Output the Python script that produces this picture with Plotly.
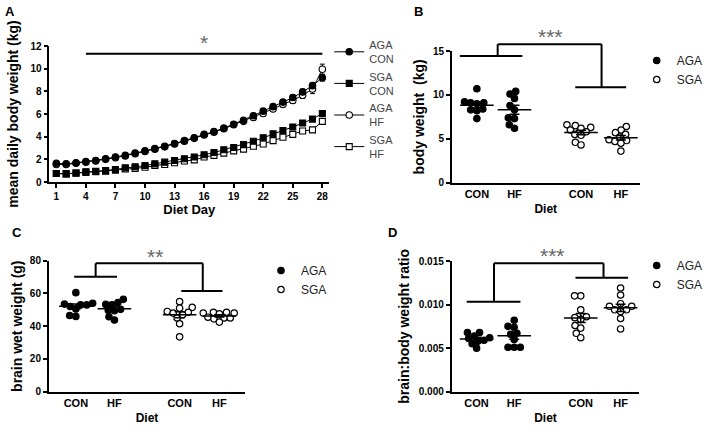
import numpy as np
import plotly.graph_objects as go

W, H = 708, 434
FONT = "Liberation Sans, Arial, sans-serif"

# ---------------- Panel A data ----------------
days = list(range(1, 29))
day_ticks = [1, 4, 7, 10, 13, 16, 19, 22, 25, 28]
aga_con = [1.65, 1.6, 1.7, 1.8, 1.9, 2.05, 2.2, 2.35, 2.55, 2.75, 2.95, 3.15, 3.4, 3.65,
           3.9, 4.2, 4.45, 4.75, 5.1, 5.45, 5.85, 6.25, 6.65, 7.05, 7.45, 7.95, 8.5, 9.2]
aga_hf = [1.55, 1.55, 1.65, 1.75, 1.85, 2.0, 2.15, 2.3, 2.5, 2.7, 2.9, 3.1, 3.35, 3.6,
          3.85, 4.15, 4.4, 4.7, 5.05, 5.35, 5.7, 6.05, 6.45, 6.85, 7.2, 7.65, 8.2, 9.95]
sga_con = [0.75, 0.72, 0.8, 0.9, 0.95, 1.0, 1.1, 1.25, 1.35, 1.45, 1.6, 1.75, 1.9, 2.05,
           2.2, 2.4, 2.6, 2.85, 3.05, 3.3, 3.6, 3.9, 4.25, 4.55, 4.85, 5.2, 5.55, 6.05]
sga_hf = [0.75, 0.72, 0.78, 0.85, 0.9, 0.95, 1.05, 1.15, 1.2, 1.3, 1.45, 1.55, 1.7, 1.85,
          1.95, 2.2, 2.35, 2.55, 2.75, 2.9, 3.15, 3.35, 3.65, 3.95, 4.2, 4.5, 4.6, 5.35]
aga_con_err = [0.08, 0.08, 0.08, 0.09, 0.09, 0.1, 0.1, 0.1, 0.11, 0.11, 0.12, 0.12, 0.13, 0.13,
               0.14, 0.15, 0.15, 0.16, 0.17, 0.18, 0.19, 0.2, 0.21, 0.22, 0.23, 0.24, 0.26, 0.3]
aga_hf_err = [0.08, 0.08, 0.09, 0.09, 0.1, 0.1, 0.11, 0.11, 0.12, 0.12, 0.13, 0.13, 0.14, 0.15,
              0.15, 0.16, 0.17, 0.18, 0.19, 0.2, 0.21, 0.22, 0.23, 0.24, 0.26, 0.28, 0.4, 0.45]
sga_con_err = [0.05, 0.05, 0.05, 0.05, 0.06, 0.06, 0.06, 0.07, 0.07, 0.07, 0.08, 0.08, 0.09, 0.09,
               0.1, 0.1, 0.11, 0.11, 0.12, 0.13, 0.14, 0.15, 0.16, 0.17, 0.18, 0.19, 0.2, 0.22]
sga_hf_err = [0.05, 0.05, 0.05, 0.05, 0.06, 0.06, 0.06, 0.07, 0.07, 0.07, 0.08, 0.08, 0.09, 0.09,
              0.1, 0.1, 0.11, 0.11, 0.12, 0.13, 0.14, 0.15, 0.16, 0.17, 0.18, 0.19, 0.2, 0.25]

# ---------------- Panels B-D data ----------------
diet_labels = ["CON", "HF", "CON", "HF"]

bw_aga_con = [10.7, 9.1, 9.0, 9.1, 9.2, 8.3, 8.4, 8.2, 7.3]
bw_aga_hf = [10.4, 10.1, 9.6, 8.8, 8.3, 7.3, 7.4, 6.2, 6.6]
bw_sga_con = [6.6, 6.5, 6.3, 6.2, 6.0, 5.8, 5.5, 5.4, 4.6, 4.3]
bw_sga_hf = [6.4, 6.0, 5.7, 5.5, 5.2, 4.9, 4.8, 4.7, 4.5, 3.6]

br_aga_con = [60.5, 53.5, 53.0, 53.0, 54.0, 52.0, 50.5, 46.0, 46.5]
br_aga_hf = [56.4, 54.4, 53.3, 53.0, 50.3, 49.5, 49.8, 45.8, 43.8]
br_sga_con = [55.0, 51.5, 51.0, 49.0, 48.5, 48.0, 47.0, 45.0, 41.5, 33.5]
br_sga_hf = [48.5, 48.5, 48.0, 48.0, 47.5, 45.5, 45.0, 45.0, 44.5, 42.5]

rt_aga_con = [0.0068, 0.0068, 0.0064, 0.0062, 0.0061, 0.0059, 0.0058, 0.0055, 0.0050]
rt_aga_hf = [0.0082, 0.0074, 0.0075, 0.0067, 0.0066, 0.0060, 0.0051, 0.0051, 0.0051]
rt_sga_con = [0.0110, 0.0110, 0.0094, 0.0086, 0.0085, 0.0083, 0.0076, 0.0073, 0.0067, 0.0062]
rt_sga_hf = [0.0119, 0.0111, 0.0101, 0.0098, 0.0098, 0.0094, 0.0092, 0.0094, 0.0084, 0.0072]

# ---------------- layout geometry (pixels -> paper) ----------------
def px_x(p):
    return p / W


def px_y(p):
    return 1 - p / H


A_dom = dict(x=[px_x(50), px_x(333)], y=[px_y(182), px_y(46)])
B_dom = dict(x=[px_x(457), px_x(647)], y=[px_y(182.7), px_y(51)])
C_dom = dict(x=[px_x(49.3), px_x(248)], y=[px_y(391.7), px_y(260.7)])
D_dom = dict(x=[px_x(456.7), px_x(646.7)], y=[px_y(391.7), px_y(261)])

A_rng = dict(x=[0.3, 28.7], y=[0, 12])
B_rng = dict(x=[0.334, 5.33], y=[0, 15])
C_rng = dict(x=[0.297, 5.39], y=[0, 80])
D_rng = dict(x=[0.334, 5.33], y=[0, 0.015])

B_pos = [1, 2, 3.77, 4.83]
C_pos = [1, 2, 3.69, 4.72]
D_pos = [1, 2, 3.77, 4.83]


def to_paper(v, rng, dom):
    return dom[0] + (v - rng[0]) / (rng[1] - rng[0]) * (dom[1] - dom[0])


def ppu(rng, dom, size):
    return (dom[1] - dom[0]) * size / (rng[1] - rng[0])


def swarm(vals, center, rng, dom, diam=6.2):
    ypp = ppu(rng['y'], dom['y'], H)
    xpp = ppu(rng['x'], dom['x'], W)
    cands = sorted(np.arange(-30, 30.25, 0.25), key=lambda v: (abs(v), v))
    placed = []
    out = [0.0] * len(vals)
    for i in sorted(range(len(vals)), key=lambda k: vals[k]):
        yp = vals[i] * ypp
        chosen = 0.0
        for c in cands:
            if all((c - px) ** 2 + (yp - py) ** 2 >= diam ** 2 for px, py in placed):
                chosen = c
                break
        placed.append((chosen, yp))
        out[i] = center + chosen / xpp
    return out


fig = go.Figure()

# ---------------- Panel A ----------------
a_series = [
    ("AGA<br>CON", aga_con, aga_con_err, "circle", "black"),
    ("SGA<br>CON", sga_con, sga_con_err, "square", "black"),
    ("AGA<br>HF", aga_hf, aga_hf_err, "circle", "white"),
    ("SGA<br>HF", sga_hf, sga_hf_err, "square", "white"),
]
for idx in [3, 2, 1, 0]:
    name, vals, errs, sym, fillc = a_series[idx]
    fig.add_trace(go.Scatter(
        x=days, y=vals, mode="lines+markers", name=name,
        line=dict(color="black", width=1),
        marker=dict(symbol=sym, size=6.5 if sym == "circle" else 6, color=fillc,
                    line=dict(color="black", width=1.1)),
        error_y=dict(type="data", array=errs, color="black", thickness=1, width=2.5),
        xaxis="x", yaxis="y", legend="legend", legendrank=idx + 1,
    ))

# ---------------- Panels B-D ----------------
panels = [
    ("x2", "y2", "legend2", B_pos, B_rng, B_dom,
     [bw_aga_con, bw_aga_hf, bw_sga_con, bw_sga_hf]),
    ("x3", "y3", "legend3", C_pos, C_rng, C_dom,
     [br_aga_con, br_aga_hf, br_sga_con, br_sga_hf]),
    ("x4", "y4", "legend4", D_pos, D_rng, D_dom,
     [rt_aga_con, rt_aga_hf, rt_sga_con, rt_sga_hf]),
]
for xa, ya, lg, pos, rng, dom, groups in panels:
    for gi, vals in enumerate(groups):
        is_aga = gi < 2
        xs = swarm(vals, pos[gi], rng, dom)
        fig.add_trace(go.Scatter(
            x=xs, y=vals, mode="markers",
            name="AGA" if is_aga else "SGA",
            showlegend=(gi in (0, 2)), legend=lg, legendrank=gi + 1,
            marker=dict(symbol="circle", size=6.4,
                        color="black" if is_aga else "white",
                        line=dict(color="black", width=1.2)),
            xaxis=xa, yaxis=ya,
        ))
    for gi, vals in enumerate(groups):
        arr = np.array(vals)
        mean = float(arr.mean())
        sem = float(arr.std(ddof=1) / np.sqrt(len(arr)))
        fig.add_trace(go.Scatter(
            x=[pos[gi]], y=[mean], mode="markers", showlegend=False,
            marker=dict(symbol="line-ew", size=24, line=dict(color="black", width=1.5)),
            error_y=dict(type="data", array=[sem], color="black", thickness=1.5, width=5),
            xaxis=xa, yaxis=ya, hoverinfo="skip",
        ))

# ---------------- axes ----------------
tickfont = dict(family=FONT, size=10, color="black", weight="bold")
ytitlefont = dict(family=FONT, size=14, color="black", weight="bold")
base = dict(showline=True, linecolor="black", linewidth=1.5, showgrid=False, zeroline=False,
            ticks="outside", ticklen=4, tickwidth=1.5, tickcolor="black", tickfont=tickfont,
            automargin=False, fixedrange=True)

fig.update_layout(
    xaxis=dict(base, domain=A_dom['x'], range=A_rng['x'], anchor="y",
               tickvals=day_ticks,
               title=dict(text="Diet Day", font=dict(ytitlefont, size=13), standoff=3)),
    yaxis=dict(base, domain=A_dom['y'], range=A_rng['y'], anchor="x", dtick=2,
               title=dict(text="mean daily body weight (kg)", font=ytitlefont, standoff=9)),
    xaxis2=dict(base, domain=B_dom['x'], range=B_rng['x'], anchor="y2", ticks="",
                tickvals=B_pos, ticktext=diet_labels, tickfont=dict(tickfont, size=11),
                title=dict(text="Diet", font=dict(ytitlefont, size=12), standoff=6)),
    yaxis2=dict(base, domain=B_dom['y'], range=B_rng['y'], anchor="x2", dtick=5,
                title=dict(text="body weight  (kg)", font=ytitlefont, standoff=5)),
    xaxis3=dict(base, domain=C_dom['x'], range=C_rng['x'], anchor="y3", ticks="",
                tickvals=C_pos, ticktext=diet_labels, tickfont=dict(tickfont, size=11),
                title=dict(text="Diet", font=dict(ytitlefont, size=12), standoff=6)),
    yaxis3=dict(base, domain=C_dom['y'], range=C_rng['y'], anchor="x3", dtick=20,
                title=dict(text="brain wet weight (g)", font=ytitlefont, standoff=4)),
    xaxis4=dict(base, domain=D_dom['x'], range=D_rng['x'], anchor="y4", ticks="",
                tickvals=D_pos, ticktext=diet_labels, tickfont=dict(tickfont, size=11),
                title=dict(text="Diet", font=dict(ytitlefont, size=12), standoff=6)),
    yaxis4=dict(base, domain=D_dom['y'], range=D_rng['y'], anchor="x4", dtick=0.005,
                tickformat=".3f",
                title=dict(text="brain:body weight ratio", font=ytitlefont, standoff=6)),
)

# ---------------- legends ----------------
leg_common = dict(xanchor="left", yanchor="top", bgcolor="rgba(0,0,0,0)", borderwidth=0,
                  itemclick=False, itemdoubleclick=False, tracegroupgap=0, itemwidth=30)
fig.update_layout(
    legend=dict(leg_common, x=px_x(333), y=px_y(31), font=dict(family=FONT, size=11, color="#444")),
    legend2=dict(leg_common, x=px_x(644), y=px_y(46), font=dict(family=FONT, size=12, color="#222")),
    legend3=dict(leg_common, x=px_x(264), y=px_y(256), font=dict(family=FONT, size=12, color="#222")),
    legend4=dict(leg_common, x=px_x(644), y=px_y(251), font=dict(family=FONT, size=12, color="#222")),
)

# ---------------- significance brackets ----------------
shapes = []


def seg(x0, y0, x1, y1, rng, dom):
    shapes.append(dict(type="line", xref="paper", yref="paper",
                       x0=to_paper(x0, rng['x'], dom['x']), x1=to_paper(x1, rng['x'], dom['x']),
                       y0=to_paper(y0, rng['y'], dom['y']), y1=to_paper(y1, rng['y'], dom['y']),
                       line=dict(color="black", width=2)))


annotations = []


def star(text, x, y, rng, dom):
    annotations.append(dict(text=text, xref="paper", yref="paper",
                            x=to_paper(x, rng['x'], dom['x']), y=to_paper(y, rng['y'], dom['y']),
                            showarrow=False, font=dict(family=FONT, size=21, color="#666"),
                            xanchor="center", yanchor="middle"))


# A
seg(4, 11.32, 28, 11.32, A_rng, A_dom)
star("*", 16, 12.27, A_rng, A_dom)
# B
seg(0.545, 14.43, 2.21, 14.43, B_rng, B_dom)
seg(1.553, 14.43, 1.553, 15.76, B_rng, B_dom)
seg(1.553, 15.76, 4.316, 15.76, B_rng, B_dom)
seg(4.316, 15.76, 4.316, 10.87, B_rng, B_dom)
seg(3.616, 10.87, 4.97, 10.87, B_rng, B_dom)
star("***", 2.97, 16.6, B_rng, B_dom)
# C
seg(0.956, 70.2, 2.067, 70.2, C_rng, C_dom)
seg(1.513, 70.2, 1.513, 78.4, C_rng, C_dom)
seg(1.513, 78.4, 4.29, 78.4, C_rng, C_dom)
seg(4.29, 78.4, 4.29, 61.5, C_rng, C_dom)
seg(3.733, 61.5, 4.80, 61.5, C_rng, C_dom)
star("**", 3.05, 82.3, C_rng, C_dom)
# D
seg(0.737, 0.01033, 2.166, 0.01033, D_rng, D_dom)
seg(1.463, 0.01033, 1.463, 0.01474, D_rng, D_dom)
seg(1.463, 0.01474, 4.376, 0.01474, D_rng, D_dom)
seg(4.376, 0.01474, 4.376, 0.01308, D_rng, D_dom)
seg(3.63, 0.01308, 5.03, 0.01308, D_rng, D_dom)
star("***", 3.02, 0.01563, D_rng, D_dom)

# panel letters
for letter, lx, ly in [("A", 10, 12), ("B", 423, 12), ("C", 17, 232), ("D", 397, 232)]:
    annotations.append(dict(text=letter, xref="paper", yref="paper", x=px_x(lx), y=px_y(ly),
                            showarrow=False, xanchor="center", yanchor="middle",
                            font=dict(family=FONT, size=13, color="black", weight="bold")))

fig.update_layout(
    shapes=shapes, annotations=annotations,
    width=W, height=H, margin=dict(l=0, r=0, t=0, b=0),
    paper_bgcolor="white", plot_bgcolor="white",
    font=dict(family=FONT, color="black"),
)

fig.write_html("out.html", config={"displayModeBar": False},
               post_script="document.body.style.margin='0';document.body.style.overflow='hidden';")
